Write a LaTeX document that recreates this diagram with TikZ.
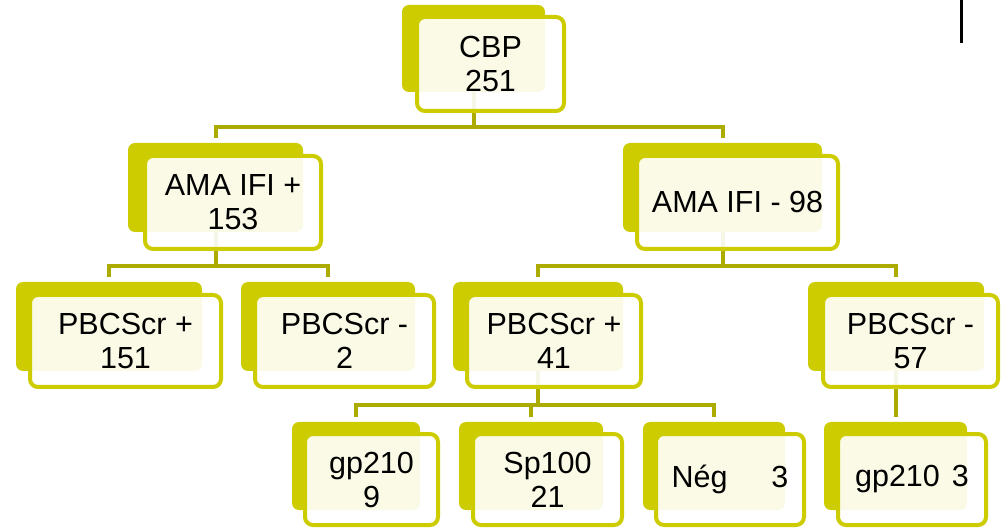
\documentclass[tikz,border=0pt]{standalone}
\usepackage{fontspec}
\setmainfont{Liberation Sans}
\definecolor{olvfill}{RGB}{204,204,0}
\definecolor{olvline}{RGB}{172,172,0}
\begin{document}
\begin{tikzpicture}[x=1pt,y=-1pt,
  bbox/.style n args={2}{rectangle, rounded corners=7pt, fill=olvfill, inner sep=0pt, outer sep=0pt, minimum width=#1, minimum height=#2},
  fbox/.style n args={2}{rectangle, rounded corners=8pt, draw=olvfill, line width=4pt, fill=white, fill opacity=0.9, text opacity=1, inner sep=0pt, outer sep=0pt, minimum width=#1, minimum height=#2, align=center, font=\fontsize{30.5}{34}\selectfont},
  link/.style={draw=olvline, line width=4pt, shorten >=5pt}]
\useasboundingbox (0,0) rectangle (1002,529);
\coordinate (bar0) at (0,127);
\coordinate (bar1) at (0,266);
\coordinate (bar2) at (0,405);
% back boxes
\node[bbox={143}{87}] (cbpB) at (473.5,48.5) {};
\node[bbox={175}{89}] (amapB) at (215.5,187.5) {};
\node[bbox={199}{89}] (amamB) at (722.5,187.5) {};
\node[bbox={186}{89}] (pbaB) at (109,326.5) {};
\node[bbox={174}{89}] (pbbB) at (328,326.5) {};
\node[bbox={170}{89}] (pbcB) at (538,326.5) {};
\node[bbox={176}{89}] (pbdB) at (896,326.5) {};
\node[bbox={128}{88}] (gpaB) at (356,466) {};
\node[bbox={144}{88}] (spB) at (531,466) {};
\node[bbox={142}{88}] (negB) at (714,466) {};
\node[bbox={143}{88}] (gpbB) at (895.5,466) {};
% connectors
\draw[link] (cbpB.south) -- (cbpB.south |- bar0) -| (amapB.north);
\draw[link] (cbpB.south) -- (cbpB.south |- bar0) -| (amamB.north);
\draw[link] (amapB.south) -- (amapB.south |- bar1) -| (pbaB.north);
\draw[link] (amapB.south) -- (amapB.south |- bar1) -| (pbbB.north);
\draw[link] (amamB.south) -- (amamB.south |- bar1) -| (pbcB.north);
\draw[link] (amamB.south) -- (amamB.south |- bar1) -| (pbdB.north);
\draw[link] (pbcB.south) -- (pbcB.south |- bar2) -| (gpaB.north);
\draw[link] (pbcB.south) -- (pbcB.south |- bar2) -| (spB.north);
\draw[link] (pbcB.south) -- (pbcB.south |- bar2) -| (negB.north);
\draw[link] (pbdB.south) -- (pbdB.south |- gpbB.north);
% front boxes
\node[fbox={147}{94}] (cbp) at (490.5,64) {CBP\\251};
\node[fbox={176}{93}] (amap) at (233,202.5) {AMA IFI +\\153};
\node[fbox={201}{93}] (amam) at (737.5,202.5) {AMA IFI - 98};
\node[fbox={191}{92}] (pba) at (125.5,341) {PBCScr +\\151};
\node[fbox={179}{92}] (pbb) at (344.5,341) {PBCScr -\\2};
\node[fbox={174}{92}] (pbc) at (554,341) {PBCScr +\\41};
\node[fbox={175}{92}] (pbd) at (910.5,341) {PBCScr -\\57};
\node[fbox={133}{91}] (gpa) at (371.5,479.5) {gp210\\9};
\node[fbox={149}{91}] (sp) at (547.5,479.5) {Sp100\\21};
\node[fbox={148}{91}] (neg) at (730,479.5) {Nég\hspace{44pt}3};
\node[fbox={148}{91}] (gpb) at (912,479.5) {gp210\hspace{12pt}3};
% stray mark
\coordinate (m1) at (961,0);
\coordinate (m2) at (961,43);
\draw[line width=3pt] (m1) -- (m2);
\end{tikzpicture}
\end{document}
